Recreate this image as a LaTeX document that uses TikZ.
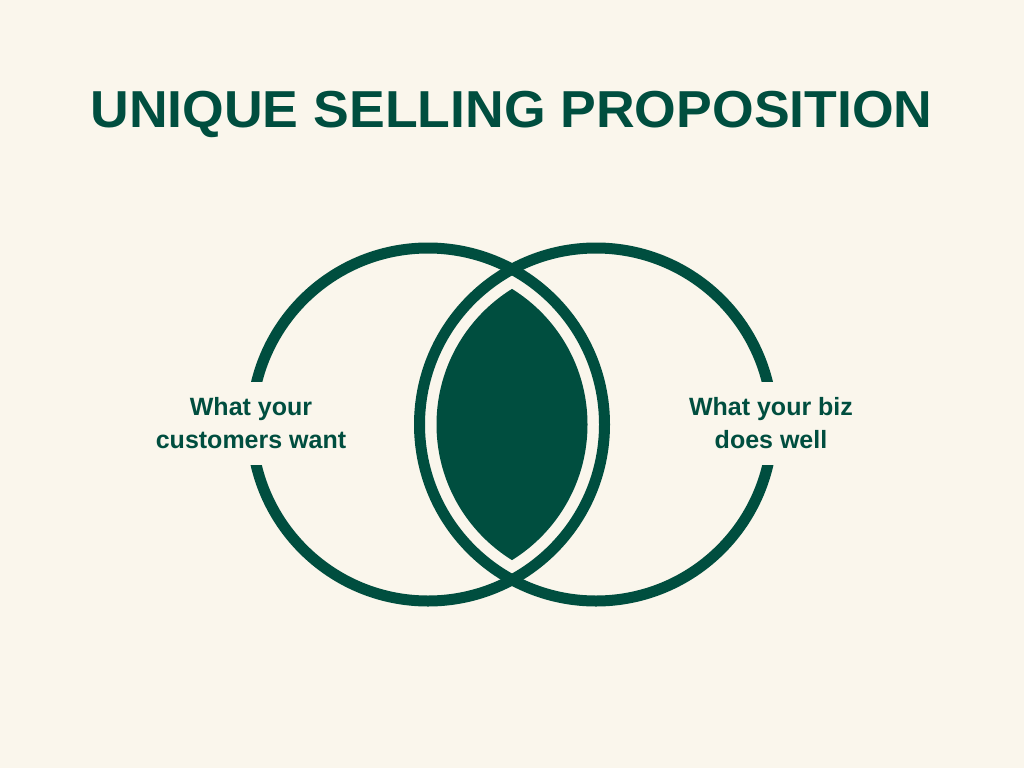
\documentclass[tikz,border=0pt]{standalone}
\usepackage{fontspec}
\setmainfont{Liberation Sans}
\definecolor{bgc}{HTML}{FAF6EC}
\definecolor{grn}{HTML}{004E3F}
\begin{document}
\begin{tikzpicture}[x=1pt,y=-1pt,
  ring/.style={draw=grn,line width=11pt},
  lbl/.style={text=grn,font=\fontsize{25}{33}\selectfont\bfseries,align=center,inner sep=0pt},
  gapbox/.style={fill=bgc,draw=none}]
\fill[bgc] (0,0) rectangle (1024,768);
\useasboundingbox (0,0) rectangle (1024,768);
\node[text=grn,font=\fontsize{52}{60}\selectfont\bfseries,anchor=base,inner sep=0pt] (title) at (511.5,127) {\scalebox{1.03}[1]{UNIQUE SELLING PROPOSITION}};
\coordinate (cl) at (428,424.5);
\coordinate (cr) at (596,424.5);
\draw[ring] (cl) circle[radius=176.5];
\draw[ring] (cr) circle[radius=176.5];
\begin{scope}
  \clip (cl) circle[radius=159.5];
  \fill[grn] (cr) circle[radius=159.5];
\end{scope}
\fill[gapbox] (225,382) rectangle (275,465);
\fill[gapbox] (750,382) rectangle (800,465);
\node[lbl,anchor=base] (left) at (251,448) {What your\\customers want};
\node[lbl,anchor=base] (right) at (771,448) {What your biz\\does well};
\end{tikzpicture}
\end{document}
